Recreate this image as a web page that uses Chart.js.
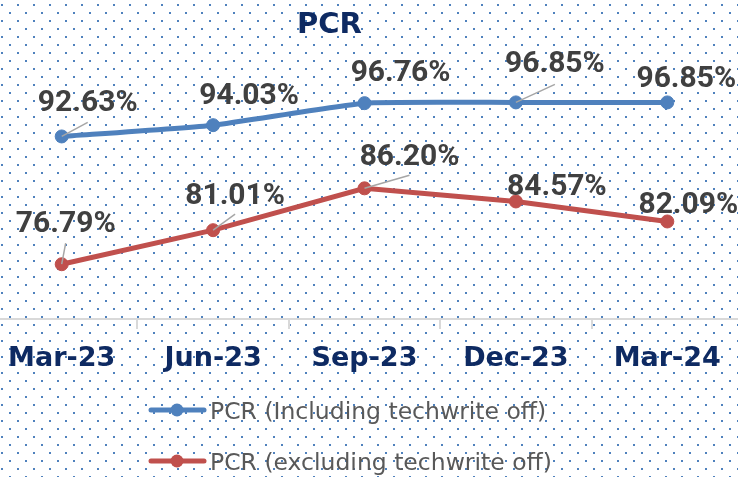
<!DOCTYPE html>
<html>
<head>
<meta charset="utf-8">
<title>PCR</title>
<script src="https://cdn.jsdelivr.net/npm/chart.js@4.4.1/dist/chart.umd.min.js"></script>
<style>
    html, body { margin: 0; padding: 0; background: #fff; overflow: hidden; }
    /* canvas is a bit wider than the window so the first/last category sit like the original */
    #wrap { position: absolute; left: -14px; top: 0; width: 757px; height: 477px; }
</style>
</head>
<body>
<div id="wrap"><canvas id="pcrChart"></canvas></div>
<script>
// Data
const quarters = ['Mar-23', 'Jun-23', 'Sep-23', 'Dec-23', 'Mar-24'];
const pcrIncluding = [92.63, 94.03, 96.76, 96.85, 96.85];
const pcrExcluding = [76.79, 81.01, 86.20, 84.57, 82.09];
const seriesNames = ['PCR (Including techwrite off)', 'PCR (excluding techwrite off)'];
const seriesColors = ['#4f81bd', '#c0504d'];
const yMin = 70;
const yMax = 100;

const SHIFT = 14; // page x = canvas x - SHIFT
const NAVY = '#0e2a62';

// label placement relative to each point (px), and leader line ends
const labelOffsets = [
    [[26, -36], [36, -32], [36, -33], [39, -41], [19, -26]],
    [[4, -43], [22, -37], [45, -34], [41, -17], [21, -19]]
];
const leaderEnds = [
    [[26, -14], null, null, [39, -18], null],
    [[4, -21], [22, -16], [45, -13], null, null]
];

// dotted background like the Excel pattern fill
const dotBackground = {
    id: 'dotBackground',
    beforeDraw(chart) {
        const { ctx, width, height } = chart;
        const tile = document.createElement('canvas');
        tile.width = 16;
        tile.height = 16;
        const t = tile.getContext('2d');
        t.fillStyle = '#ffffff';
        t.fillRect(0, 0, 16, 16);
        t.fillStyle = '#4f81bd';
        t.fillRect(1, 4, 2, 2);
        t.fillRect(9, 12, 2, 2);
        ctx.save();
        ctx.translate(SHIFT, 0);
        ctx.fillStyle = ctx.createPattern(tile, 'repeat');
        ctx.fillRect(-SHIFT, 0, width, height);
        ctx.restore();
    }
};

// value labels with grey leader lines
const pointLabels = {
    id: 'pointLabels',
    afterDatasetsDraw(chart) {
        const ctx = chart.ctx;
        ctx.save();
        chart.data.datasets.forEach((ds, i) => {
            chart.getDatasetMeta(i).data.forEach((pt, j) => {
                const lead = leaderEnds[i][j];
                if (lead) {
                    ctx.strokeStyle = '#a6a6a6';
                    ctx.lineWidth = 1.5;
                    ctx.beginPath();
                    ctx.moveTo(pt.x, pt.y);
                    ctx.lineTo(pt.x + lead[0], pt.y + lead[1]);
                    ctx.stroke();
                }
                const off = labelOffsets[i][j];
                ctx.font = 'bold 30px Roboto';
                ctx.fillStyle = '#404040';
                ctx.textAlign = 'center';
                ctx.textBaseline = 'alphabetic';
                ctx.fillText(ds.data[j].toFixed(2) + '%', pt.x + off[0], pt.y + off[1] + 11);
            });
        });
        ctx.restore();
    }
};

// title + stacked legend
const titleAndLegend = {
    id: 'titleAndLegend',
    afterDraw(chart) {
        const ctx = chart.ctx;
        ctx.save();
        ctx.textBaseline = 'alphabetic';

        ctx.font = 'bold 29px "DejaVu Sans"';
        ctx.fillStyle = NAVY;
        ctx.textAlign = 'center';
        ctx.fillText('PCR', 329.5 + SHIFT, 33);

        const rows = [410, 461];
        chart.data.datasets.forEach((ds, i) => {
            const y = rows[i];
            ctx.strokeStyle = ds.borderColor;
            ctx.lineWidth = 5;
            ctx.lineCap = 'round';
            ctx.beginPath();
            ctx.moveTo(151 + SHIFT, y);
            ctx.lineTo(204 + SHIFT, y);
            ctx.stroke();
            ctx.fillStyle = ds.borderColor;
            ctx.beginPath();
            ctx.arc(177 + SHIFT, y, 6.5, 0, Math.PI * 2);
            ctx.fill();

            ctx.font = '23.5px "DejaVu Sans"';
            ctx.fillStyle = '#595959';
            ctx.textAlign = 'left';
            ctx.fillText(ds.label, 210 + SHIFT, y + 8.5);
        });
        ctx.restore();
    }
};

function makeDataset(label, data, color, tension) {
    return {
        label: label,
        data: data,
        borderColor: color,
        backgroundColor: color,
        borderWidth: 5,
        tension: tension,
        pointRadius: 6.5,
        pointBackgroundColor: color,
        pointBorderColor: color,
        pointBorderWidth: 1
    };
}

new Chart(document.getElementById('pcrChart'), {
    type: 'line',
    data: {
        labels: quarters,
        datasets: [
            makeDataset(seriesNames[0], pcrIncluding, seriesColors[0], 0.15),
            makeDataset(seriesNames[1], pcrExcluding, seriesColors[1], 0)
        ]
    },
    options: {
        responsive: true,
        maintainAspectRatio: false,
        animation: false,
        devicePixelRatio: 1,
        layout: {
            padding: { top: 77, left: 0, right: 0, bottom: 0 },
            autoPadding: false
        },
        plugins: {
            legend: { display: false },
            title: { display: false },
            tooltip: { enabled: false }
        },
        scales: {
            x: {
                offset: true,
                grid: {
                    offset: true,
                    drawOnChartArea: false,
                    drawTicks: true,
                    tickLength: 10,
                    color: '#d9d9d9',
                    lineWidth: 2
                },
                border: { display: true, color: '#d9d9d9', width: 2 },
                ticks: {
                    color: NAVY,
                    font: { family: 'DejaVu Sans', weight: 'bold', size: 27 },
                    padding: 14,
                    maxRotation: 0,
                    autoSkip: false
                },
                afterFit: (scale) => { scale.height = 158; }
            },
            y: {
                display: false,
                min: yMin,
                max: yMax
            }
        }
    },
    plugins: [dotBackground, pointLabels, titleAndLegend]
});
</script>
</body>
</html>
